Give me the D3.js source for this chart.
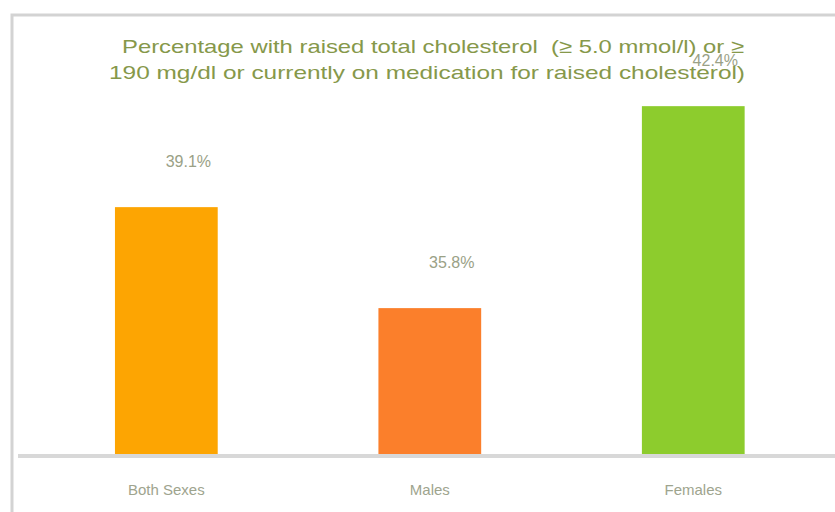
<!DOCTYPE html>
<html>
<head>
<meta charset="utf-8">
<script src="https://cdn.jsdelivr.net/npm/d3@7"></script>
<style>
  html, body { margin: 0; padding: 0; background: #fff; }
  svg { display: block; }
  text { font-family: "Liberation Sans Narrow", "Liberation Sans", "DejaVu Sans Condensed", sans-serif; }
</style>
</head>
<body>
<svg id="chart" width="835" height="512"></svg>
<script>
// Raised total cholesterol prevalence by sex
const categories = ["Both Sexes", "Males", "Females"];
const values = [39.1, 35.8, 42.4];
const valueLabels = ["39.1%", "35.8%", "42.4%"];
const barColors = ["#FDA502", "#FB7F2B", "#8DCC2D"];
const titleLines = [
  "Percentage with raised total cholesterol  (\u2265 5.0 mmol/l) or \u2265",
  "190 mg/dl or currently on medication for raised cholesterol)"
];

const svg = d3.select("#chart");
const W = 835, H = 512;

// Panel frame (left and top edges)
svg.append("path")
  .attr("d", `M12,${H} L12,15 L${W + 5},15`)
  .attr("fill", "none")
  .attr("stroke", "#d3d3d3")
  .attr("stroke-width", 3);

const x = d3.scaleBand()
  .domain(categories)
  .range([34.6, 825])
  .paddingInner(0.61)
  .paddingOuter(0.305);

const y = d3.scaleLinear()
  .domain([31, 43])
  .range([455, 455 - 12 * 30.6]);

// Bars
svg.append("g").selectAll("rect")
  .data(categories)
  .join("rect")
  .attr("x", d => x(d))
  .attr("width", x.bandwidth())
  .attr("y", (d, i) => y(values[i]))
  .attr("height", (d, i) => y.range()[0] - y(values[i]))
  .attr("fill", (d, i) => barColors[i]);

// Baseline
svg.append("line")
  .attr("x1", 18).attr("x2", W)
  .attr("y1", y.range()[0] + 1).attr("y2", y.range()[0] + 1)
  .attr("stroke", "#d8d8d8")
  .attr("stroke-width", 4);

// Category axis labels
const xAxis = d3.axisBottom(x).tickSize(0).tickPadding(0);
const gx = svg.append("g")
  .attr("transform", `translate(0,${y.range()[0]})`)
  .call(xAxis);
gx.select(".domain").remove();
gx.selectAll("text")
  .attr("y", 40)
  .attr("dy", 0)
  .attr("font-size", 15)
  .attr("fill", "#9ea48e")
  .style("font-family", '"Liberation Sans Narrow", "Liberation Sans", sans-serif');

// Value labels
svg.append("g").selectAll("text")
  .data(categories)
  .join("text")
  .attr("x", d => x(d) + x.bandwidth() / 2 + 22)
  .attr("y", (d, i) => y(values[i]) - 40)
  .attr("text-anchor", "middle")
  .attr("font-size", 16)
  .attr("fill", "#9aa186")
  .text((d, i) => valueLabels[i]);

// Title, two centred lines stretched to the panel's title width
const titleWidths = [622, 636];
const titleCenters = [433, 427];
svg.append("g").selectAll("text")
  .data(titleLines)
  .join("text")
  .attr("x", (d, i) => titleCenters[i])
  .attr("y", (d, i) => 53 + i * 26)
  .attr("text-anchor", "middle")
  .attr("font-size", 19)
  .attr("fill", "#86984a")
  .attr("textLength", (d, i) => titleWidths[i])
  .attr("lengthAdjust", "spacingAndGlyphs")
  .style("white-space", "pre")
  .text(d => d);
</script>
</body>
</html>
